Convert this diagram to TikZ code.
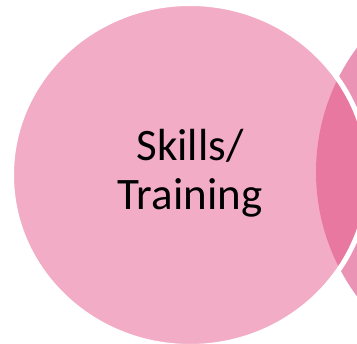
\documentclass[tikz,border=0pt]{standalone}
\usepackage{fontspec}
\setmainfont{Carlito}
\usepackage{xcolor}
\usepackage{tikz}
\usetikzlibrary{positioning}

\definecolor{skillpink}{HTML}{F2ACC5}
\definecolor{otherpink}{HTML}{EA93B5}
\definecolor{overlappink}{HTML}{E8789F}

\begin{document}
\begin{tikzpicture}[
    x=1pt, y=1pt,
    outline/.style={draw=white, line width=5pt},
    label/.style={align=center, font=\fontsize{45}{49}\selectfont, text=black}
]
\useasboundingbox (0,0) rectangle (357,344);

% neighbouring set, mostly off to the right
\fill[otherpink] (525,172) circle (209);
% main set
\fill[skillpink] (190,169) ellipse [x radius=178.5, y radius=171.5];
% common part of both sets
\begin{scope}
    \clip (190,169) ellipse [x radius=178.5, y radius=171.5];
    \fill[overlappink] (525,172) circle (209);
\end{scope}
\draw[outline] (190,169) ellipse [x radius=178.5, y radius=171.5];

\node[label] (skills) at (190,171) {Skills/\\Training};
\end{tikzpicture}
\end{document}
